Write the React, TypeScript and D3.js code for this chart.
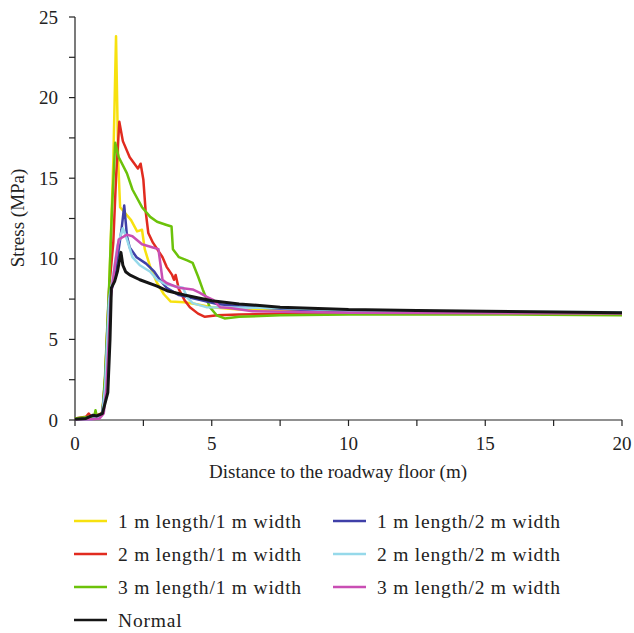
import React from 'react'
import { scaleLinear, line, range } from 'd3'

// stress profiles, [distance (m), stress (MPa)]
const len1w1: [number, number][] = [[0, 0.1], [0.5, 0.15], [0.8, 0.2], [1.0, 0.5], [1.1, 2.5], [1.25, 8.2], [1.4, 16], [1.5, 23.8], [1.58, 16], [1.65, 13.2], [1.8, 12.9], [2.05, 12.4], [2.27, 11.7], [2.45, 11.8], [2.55, 10.6], [2.75, 9.5], [3.0, 8.5], [3.25, 7.8], [3.5, 7.35], [4.0, 7.3], [4.4, 7.2], [5.0, 7.0], [6, 6.85], [8, 6.75], [10, 6.7], [15, 6.65], [20, 6.6]]
const len2w1: [number, number][] = [[0, 0.1], [0.4, 0.2], [0.5, 0.4], [0.6, 0.2], [1.0, 0.4], [1.1, 2.5], [1.25, 8.2], [1.4, 11], [1.5, 15], [1.62, 18.5], [1.75, 17.3], [2.0, 16.3], [2.3, 15.6], [2.4, 15.9], [2.5, 14.9], [2.58, 13.0], [2.68, 11.6], [2.85, 11.0], [3.2, 10.1], [3.35, 9.5], [3.55, 9.0], [3.62, 8.7], [3.68, 9.0], [3.8, 8.1], [4.0, 7.45], [4.2, 7.0], [4.5, 6.6], [4.75, 6.4], [5.2, 6.5], [6, 6.55], [8, 6.6], [20, 6.6]]
const len3w1: [number, number][] = [[0, 0.1], [0.5, 0.2], [0.7, 0.2], [0.75, 0.6], [0.8, 0.2], [1.0, 0.4], [1.1, 2.8], [1.25, 8.4], [1.35, 13], [1.47, 17.2], [1.6, 16.3], [1.9, 15.3], [2.1, 14.3], [2.45, 13.2], [2.75, 12.6], [3.0, 12.3], [3.35, 12.1], [3.53, 12.0], [3.58, 10.6], [3.8, 10.1], [4.1, 9.9], [4.3, 9.75], [4.5, 8.9], [4.67, 8.1], [4.93, 7.0], [5.18, 6.5], [5.47, 6.3], [6.0, 6.4], [7.5, 6.5], [10, 6.55], [15, 6.55], [20, 6.5]]
const len1w2: [number, number][] = [[0, 0.05], [0.6, 0.05], [0.9, 0.2], [1.0, 0.5], [1.1, 2.0], [1.25, 7.5], [1.4, 8.5], [1.55, 10], [1.7, 11.8], [1.8, 13.3], [1.9, 11.4], [2.0, 10.7], [2.25, 10.1], [2.6, 9.7], [2.9, 9.2], [3.1, 8.7], [3.35, 8.2], [3.8, 7.75], [4.55, 7.45], [5.2, 7.2], [6, 7.05], [8, 6.85], [10, 6.75], [15, 6.7], [20, 6.65]]
const len2w2: [number, number][] = [[0, 0.05], [0.6, 0.05], [0.9, 0.15], [1.0, 0.4], [1.1, 2.0], [1.25, 7.5], [1.4, 9], [1.55, 10.8], [1.75, 11.9], [1.9, 11.2], [2.1, 10.1], [2.37, 9.6], [2.75, 9.2], [3.0, 8.7], [3.35, 8.4], [3.65, 8.3], [3.95, 8.2], [4.1, 7.6], [4.3, 7.25], [4.8, 7.0], [7.5, 6.95], [10, 6.8], [15, 6.72], [20, 6.68]]
const len3w2: [number, number][] = [[0, 0.05], [0.6, 0.05], [0.9, 0.1], [1.05, 0.4], [1.15, 2], [1.3, 7.5], [1.45, 9.5], [1.6, 11.2], [1.9, 11.5], [2.1, 11.4], [2.45, 10.9], [2.85, 10.7], [3.05, 10.6], [3.2, 8.7], [3.35, 8.5], [3.8, 8.2], [4.3, 8.1], [4.55, 7.9], [4.8, 7.65], [5.05, 7.45], [5.3, 7.0], [5.65, 6.95], [6.5, 6.75], [10, 6.65], [20, 6.6]]
const normal: [number, number][] = [[0, 0.05], [0.4, 0.1], [0.66, 0.3], [0.8, 0.25], [1.0, 0.4], [1.2, 1.7], [1.28, 5], [1.33, 8.2], [1.45, 8.6], [1.55, 9.2], [1.68, 10.4], [1.75, 9.6], [1.85, 9.2], [2.0, 9.0], [2.37, 8.7], [3.0, 8.3], [3.4, 8.0], [4.0, 7.75], [5.0, 7.4], [6.0, 7.2], [7.5, 7.0], [10, 6.85], [12.5, 6.8], [15, 6.75], [20, 6.65]]

const seriesNames = ['1 m length/1 m width', '2 m length/1 m width', '3 m length/1 m width', '1 m length/2 m width', '2 m length/2 m width', '3 m length/2 m width', 'Normal']
const seriesData = [len1w1, len2w1, len3w1, len1w2, len2w2, len3w2, normal]
const seriesColors = ['#f7e10f', '#e12b1f', '#6cc20a', '#3f40a8', '#96d9ea', '#c94eb4', '#151515']

const xTicks = [0, 5, 10, 15, 20]
const yTicks = [0, 5, 10, 15, 20, 25]

const font = '"Liberation Serif", "Times New Roman", serif'

const App = () => {
	const width = 634
	const height = 633
	const x = scaleLinear().domain([0, 20]).range([75, 622])
	const y = scaleLinear().domain([0, 25]).range([420, 17])
	const path = line<[number, number]>().x(d => x(d[0])).y(d => y(d[1]))

	// legend: two columns, black last on its own row
	const legendPos = (i: number) => {
		if (i === 6) return { lx: 74, ly: 620 }
		const col = i < 3 ? 0 : 1
		const row = i % 3
		return { lx: col === 0 ? 74 : 333, ly: 521 + row * 33 }
	}

	return (
		<svg width={width} height={height} style={{ position: 'absolute', left: 0, top: 0, background: '#fff' }} fontFamily={font}>
			{/* axes */}
			<g stroke="#222" strokeWidth={1.2} fill="none">
				<line x1={75} x2={75} y1={17} y2={420} />
				<line x1={75} x2={622} y1={420} y2={420} />
				{range(0, 25.1, 2.5).map(v => (
					<line key={`yt-${v}`} x1={69} x2={75} y1={y(v)} y2={y(v)} />
				))}
				{range(0, 20.1, 2.5).map(v => (
					<line key={`xt-${v}`} x1={x(v)} x2={x(v)} y1={420} y2={426} />
				))}
			</g>
			{yTicks.map(v => (
				<text key={`yl-${v}`} x={58} y={y(v) + 6.5} textAnchor="end" fontSize={19} fill="#222">{v}</text>
			))}
			{xTicks.map(v => (
				<text key={`xl-${v}`} x={x(v)} y={450} textAnchor="middle" fontSize={19} fill="#222">{v}</text>
			))}
			<text x={338} y={478} textAnchor="middle" fontSize={19} fill="#222">Distance to the roadway floor (m)</text>
			<text transform="translate(24, 218) rotate(-90)" textAnchor="middle" fontSize={19} fill="#222">Stress (MPa)</text>

			{/* data lines */}
			{seriesData.map((d, i) => (
				<path key={`s-${i}`} d={path(d) || ''} fill="none" stroke={seriesColors[i]}
					strokeWidth={i === 6 ? 3 : 2.5} strokeLinejoin="round" />
			))}

			{/* legend */}
			{seriesNames.map((name, i) => {
				const { lx, ly } = legendPos(i)
				return (
					<g key={`lg-${i}`}>
						<line x1={lx} x2={lx + 33} y1={ly} y2={ly} stroke={seriesColors[i]} strokeWidth={2.5} />
						<text x={lx + 44} y={ly + 6.5} fontSize={19.5} letterSpacing={0.8} fill="#222">{name}</text>
					</g>
				)
			})}
		</svg>
	)
}

export default App
